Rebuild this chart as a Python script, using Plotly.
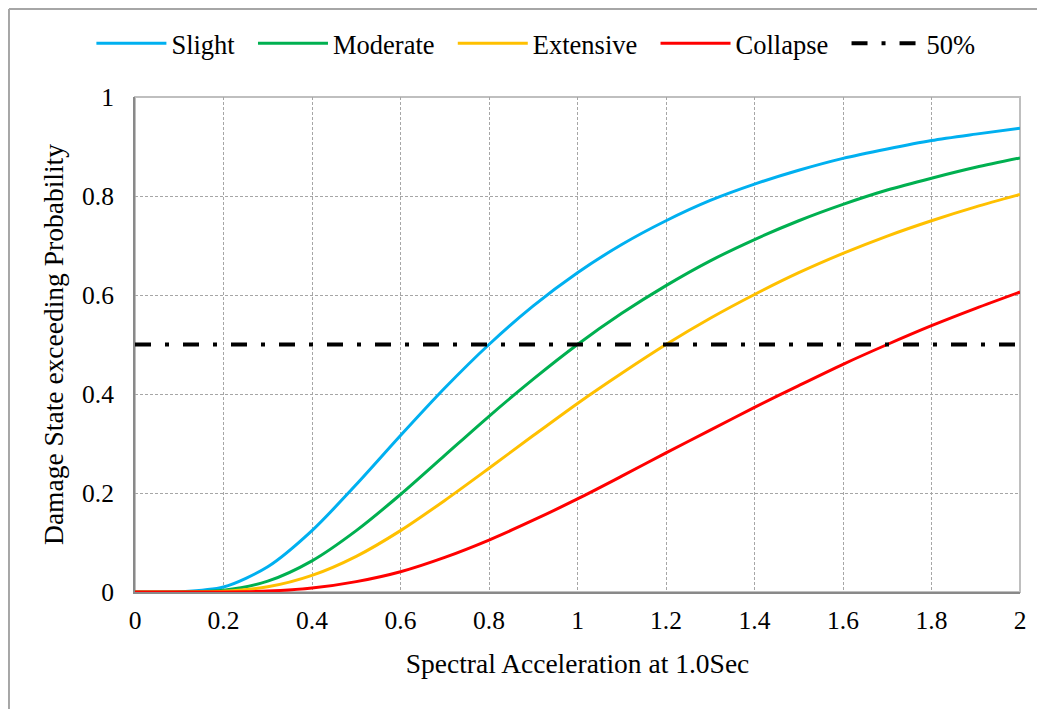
import plotly.graph_objects as go

# Spectral acceleration (x) values
sa = [0.0, 0.1, 0.2, 0.3, 0.4, 0.5, 0.6, 0.7, 0.8, 0.9, 1.0,
      1.1, 1.2, 1.3, 1.4, 1.5, 1.6, 1.7, 1.8, 1.9, 2.0]

# Damage state exceedance probabilities
slight = [0.0, 0.0003, 0.010, 0.051, 0.124, 0.217, 0.316, 0.412, 0.500, 0.578, 0.645,
          0.702, 0.750, 0.791, 0.824, 0.852, 0.876, 0.895, 0.912, 0.925, 0.937]
moderate = [0.0, 0.0001, 0.0037, 0.022, 0.063, 0.124, 0.197, 0.276, 0.355, 0.430, 0.500,
            0.563, 0.619, 0.669, 0.712, 0.750, 0.783, 0.812, 0.836, 0.858, 0.877]
extensive = [0.0, 0.0, 0.0014, 0.0104, 0.0335, 0.072, 0.124, 0.185, 0.250, 0.316, 0.381,
             0.442, 0.500, 0.553, 0.601, 0.645, 0.684, 0.719, 0.750, 0.778, 0.803]
collapse = [0.0, 0.0, 0.0002, 0.0019, 0.008, 0.021, 0.041, 0.070, 0.105, 0.145, 0.188,
            0.234, 0.281, 0.327, 0.373, 0.417, 0.460, 0.500, 0.538, 0.573, 0.606]

ref_x = [0.0, 2.0]
ref_y = [0.5, 0.5]

x_tickvals = [0, 0.2, 0.4, 0.6, 0.8, 1.0, 1.2, 1.4, 1.6, 1.8, 2.0]
x_ticktext = ["0", "0.2", "0.4", "0.6", "0.8", "1", "1.2", "1.4", "1.6", "1.8", "2"]
y_tickvals = [0, 0.2, 0.4, 0.6, 0.8, 1.0]
y_ticktext = ["0", "0.2", "0.4", "0.6", "0.8", "1"]

FONT = "Liberation Serif"
GAP = "\u00a0\u00a0"  # extra spacing between legend entries

series = [
    ("Slight", slight, "#00B0F0"),
    ("Moderate", moderate, "#00B050"),
    ("Extensive", extensive, "#FFC000"),
    ("Collapse", collapse, "#FF0000"),
]

fig = go.Figure()
for name, ys, col in series:
    fig.add_trace(go.Scatter(x=sa, y=ys, mode="lines", name=name + GAP,
                             line=dict(color=col, width=3, shape="spline", smoothing=0.8)))

fig.add_trace(go.Scatter(x=ref_x, y=ref_y, mode="lines", name="50%",
                         line=dict(color="black", width=4, dash="16px,14px,4px,14px")))

fig.update_layout(
    width=1045, height=709,
    margin=dict(l=127, r=33, t=89, b=125),
    paper_bgcolor="white", plot_bgcolor="white",
    font=dict(family=FONT, size=25.5, color="black"),
    showlegend=True,
    legend=dict(orientation="h", x=0.453, xanchor="center", y=1.108, yanchor="middle",
                font=dict(family=FONT, size=26.5, color="black"), itemwidth=70,
                traceorder="normal", bgcolor="rgba(0,0,0,0)"),
    xaxis=dict(range=[0, 2], tickvals=x_tickvals, ticktext=x_ticktext,
               tickfont=dict(family=FONT, size=25.5, color="black"),
               showgrid=True, gridcolor="#a6a6a6", gridwidth=1, griddash="3px,2px",
               showline=True, linecolor="#898989", linewidth=2, zeroline=False,
               ticks="", ticklabelstandoff=4,
               title=dict(text="Spectral Acceleration at 1.0Sec",
                          font=dict(family=FONT, size=27.5, color="black"), standoff=20)),
    yaxis=dict(range=[0, 1], tickvals=y_tickvals, ticktext=y_ticktext,
               tickfont=dict(family=FONT, size=25.5, color="black"),
               showgrid=True, gridcolor="#a6a6a6", gridwidth=1, griddash="3px,2px",
               showline=True, linecolor="#898989", linewidth=2, zeroline=False,
               ticks="", ticklabelstandoff=14,
               title=dict(text="Damage State exceeding Probability",
                          font=dict(family=FONT, size=27.5, color="black"), standoff=10)),
    shapes=[
        dict(type="rect", xref="paper", yref="paper", x0=0, x1=1, y0=0, y1=1,
             line=dict(color="#bfbfbf", width=2), layer="below"),
        dict(type="line", xref="paper", yref="paper", x0=-0.1424, x1=-0.1424, y0=-0.25, y1=1.178,
             line=dict(color="#a6a6a6", width=2), layer="above"),
        dict(type="line", xref="paper", yref="paper", x0=-0.1424, x1=1.1, y0=1.178, y1=1.178,
             line=dict(color="#a6a6a6", width=2), layer="above"),
    ],
)

fig.write_html("out.html")
